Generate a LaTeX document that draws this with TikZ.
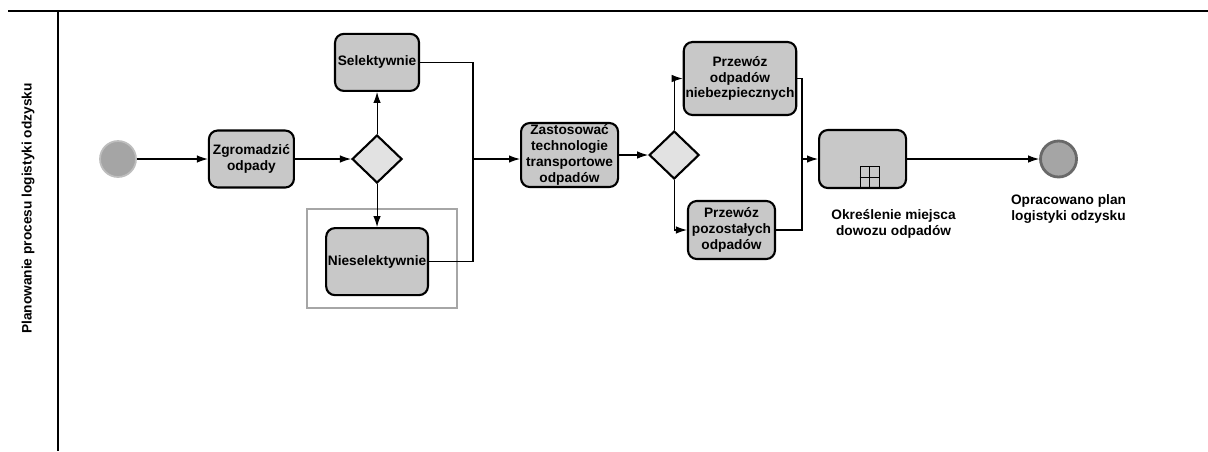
\documentclass[tikz,border=0pt]{standalone}
\usepackage{fontspec}
\setmainfont{Liberation Sans}
\usetikzlibrary{shapes.geometric, positioning, arrows.meta}
\definecolor{taskgray}{RGB}{200,200,200}
\definecolor{gategray}{RGB}{226,226,226}
\definecolor{evgray}{RGB}{165,165,165}
\definecolor{evrim}{RGB}{190,190,190}
\definecolor{endrim}{RGB}{105,105,105}

\begin{document}
\begin{tikzpicture}[
  node distance=0.6cm and 0.8cm,
  task/.style={rectangle, rounded corners=5pt, draw, line width=1.2pt,
               fill=taskgray, align=center, inner sep=1pt,
               font=\fontsize{7.8}{9}\selectfont\bfseries},
  gate/.style={diamond, draw, line width=1.2pt, fill=gategray,
               minimum width=1.0cm, minimum height=0.96cm, inner sep=0pt},
  startev/.style={circle, fill=evgray, draw=evrim, line width=1pt,
                  minimum size=0.72cm, inner sep=0pt},
  endev/.style={circle, fill=evgray, draw=endrim, line width=1.6pt,
                minimum size=0.72cm, inner sep=0pt},
  lbl/.style={align=center, font=\fontsize{7.8}{9}\selectfont\bfseries},
  marker/.style={rectangle, draw, line width=0.6pt, inner sep=0pt,
                 minimum width=0.38cm, minimum height=0.44cm},
  flow/.style={-{Latex[length=2.2mm, width=1.5mm]}, line width=0.6pt},
  line/.style={line width=0.6pt},
  pool/.style={line width=0.7pt},
  group/.style={draw=gray!70, line width=0.6pt},
]
\useasboundingbox (0,0) rectangle (24.16,-9.02);
% Tor
\draw[pool] (0.16,-0.22) -- (24.16,-0.22);
\draw[pool] (1.16,-0.22) -- (1.16,-9.02);
\node[lbl, rotate=90] (lane) at (0.56,-4.17) {Planowanie procesu logistyki odzysku};
% Gromadzenie i segregacja
\node[startev] (start) at (2.36,-3.18) {};
\node[task, minimum width=1.7cm, minimum height=1.14cm, right=1.42cm of start] (zgrom) {Zgromadzić\\odpady};
\node[gate, right=1.12cm of zgrom] (gw1) {};
\node[task, minimum width=1.68cm, minimum height=1.14cm, above=0.84cm of gw1] (sel) {Selektywnie};
\node[task, minimum width=2.0cm, minimum height=1.34cm, below=0.86cm of gw1] (niesel) {Nieselektywnie};
\draw[group] (6.14,-4.18) rectangle (9.14,-6.16);
\coordinate (j1) at (9.46,-3.18);
% Transport
\node[task, minimum width=1.94cm, minimum height=1.28cm, right=0.94cm of j1, yshift=0.08cm] (zast) {Zastosować\\technologie\\transportowe\\odpadów};
\node[gate, right=0.58cm of zast] (gw2) {};
\node[task, minimum width=2.2cm, minimum height=1.46cm] (niebez) at (14.8,-1.57) {Przewóz\\odpadów\\niebezpiecznych};
\node[task, minimum width=1.74cm, minimum height=1.16cm] (pozost) at (14.63,-4.6) {Przewóz\\pozostałych\\odpadów};
\coordinate (j2) at (16.04,-3.18);
% Podproces i koniec
\node[task, minimum width=1.74cm, minimum height=1.16cm, right=0.32cm of j2] (okresl) {};
\node[marker, anchor=south, xshift=0.14cm] (okreslmk) at (okresl.south) {};
\draw[line] (okreslmk.north) -- (okreslmk.south) (okreslmk.west) -- (okreslmk.east);
\node[lbl, below=0.28cm of okresl, xshift=0.62cm] (okresllbl) {Określenie miejsca\\dowozu odpadów};
\node[endev, right=2.64cm of okresl] (end) {};
\node[lbl, below=0.2cm of end, xshift=0.2cm] (endlbl) {Opracowano plan\\logistyki odzysku};
% Przepływy
\draw[flow] (start) -- (zgrom);
\draw[flow] (zgrom) -- (gw1);
\draw[flow] (gw1.north) -- (gw1.north |- sel.south);
\draw[flow] (gw1.south) -- (gw1.south |- niesel.north);
\draw[line] (sel.east) -| (j1);
\draw[line] (niesel.east) -| (j1);
\draw[flow] (j1) -- (j1 -| zast.west);
\draw[flow] (zast) -- (gw2);
\draw[flow] (gw2.north) |- (niebez.west);
\draw[flow] (gw2.south) |- (pozost.west);
\draw[line] (niebez.east) -| (j2);
\draw[line] (pozost.east) -| (j2);
\draw[flow] (j2) -- (okresl);
\draw[flow] (okresl) -- (end);
\end{tikzpicture}
\end{document}
